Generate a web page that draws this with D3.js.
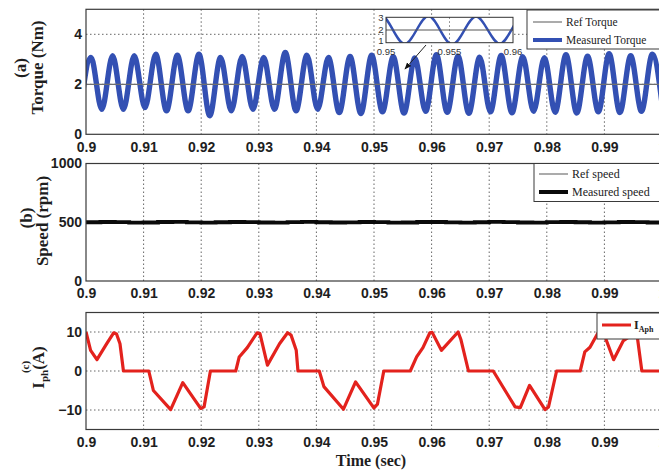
<!DOCTYPE html>
<html>
<head>
<meta charset="utf-8">
<script src="https://cdn.jsdelivr.net/npm/d3@7"></script>
<style>
  body { margin: 0; background: #fff; }
  svg { display: block; }
</style>
</head>
<body>
<svg id="chart" width="659" height="472"></svg>
<script>
// ---- data ----
const timeTicks = [0.9, 0.91, 0.92, 0.93, 0.94, 0.95, 0.96, 0.97, 0.98, 0.99, 1.0];
const timeTickLabels = ["0.9", "0.91", "0.92", "0.93", "0.94", "0.95", "0.96", "0.97", "0.98", "0.99", "1"];

// torque extrema (alternating trough / peak), Nm
const torqueTimes = [
  0.89900, 0.90087, 0.90274, 0.90462, 0.90649, 0.90837, 0.91024, 0.91211, 0.91398, 0.91586,
  0.91773, 0.91961, 0.92148, 0.92336, 0.92523, 0.92711, 0.92898, 0.93085, 0.93272, 0.93460,
  0.93647, 0.93835, 0.94022, 0.94210, 0.94397, 0.94585, 0.94772, 0.94960, 0.95147, 0.95334,
  0.95521, 0.95709, 0.95896, 0.96084, 0.96271, 0.96459, 0.96646, 0.96834, 0.97021, 0.97208,
  0.97395, 0.97583, 0.97770, 0.97958, 0.98145, 0.98333, 0.98520, 0.98708, 0.98895, 0.99082,
  0.99269, 0.99457, 0.99644, 0.99832, 1.00019
];
const torqueValues = [
  0.95,
  3.07, 1.00, 3.14, 1.00, 3.14, 1.07, 3.20, 0.94, 3.16, 0.94,
  3.20, 0.74, 3.07, 0.94, 3.11, 1.00, 3.07, 1.00, 3.27, 0.94,
  3.16, 1.00, 3.07, 0.87, 3.11, 0.83, 3.16, 0.90, 3.10, 0.85,
  3.05, 0.92, 3.18, 0.88, 3.12, 0.84, 3.08, 0.90, 3.15, 0.86,
  3.10, 0.92, 3.06, 0.88, 3.18, 0.85, 3.12, 0.90, 3.22, 0.87,
  3.14, 0.92, 3.20, 0.88
];
const refTorque = 2;
const torqueTicks = [0, 2, 4];
const insetTicks = [1, 2, 3];
const insetTimeTicks = [0.95, 0.955, 0.96];
const insetTimeLabels = ["0.95", "0.955", "0.96"];

// speed, rpm (sampled every 2.5 ms from 0.9 s)
const speedStart = 0.9;
const speedStep = 0.0025;
const speedValues = [
  500, 502, 501, 497, 498, 502, 503, 499, 497, 500, 502, 501, 498, 497, 501, 503, 500, 498, 499, 502, 501,
  497, 498, 502, 502, 499, 497, 500, 503, 501, 498, 497, 501, 502, 500, 497, 499, 502, 501, 498, 500
];
const refSpeed = 500;
const speedTicks = [0, 500, 1000];

// phase A current, A
const currentTimes = [
  0.9000, 0.9008, 0.9019, 0.9036, 0.9048, 0.9053, 0.9059, 0.9065, 0.9109, 0.9117,
  0.9147, 0.9168, 0.9199, 0.9205, 0.9216, 0.9260, 0.9266, 0.9280, 0.9297, 0.9302,
  0.9315, 0.9336, 0.9350, 0.9356, 0.9365, 0.9368, 0.9405, 0.9413, 0.9447, 0.9468,
  0.9500, 0.9506, 0.9517, 0.9563, 0.9574, 0.9585, 0.9597, 0.9601, 0.9617, 0.9646,
  0.9651, 0.9664, 0.9707, 0.9745, 0.9754, 0.9770, 0.9797, 0.9803, 0.9817, 0.9858,
  0.9866, 0.9875, 0.9889, 0.9898, 0.9916, 0.9933, 0.9956, 0.9965, 1.0000
];
const currentValues = [
  10, 5.3, 2.9, 7, 9.8, 9.5, 7, 0, 0, -5,
  -9.9, -3, -9.6, -9.2, 0, 0, 3.6, 6, 9.8, 9.6,
  1.5, 7, 9.8, 9.2, 5.3, 0, 0, -4, -9.8, -2.8,
  -9.5, -8.5, 0, 0, 3.6, 6, 9.8, 9.9, 5.3, 10,
  8, 0, 0, -9.2, -9.4, -3.7, -9.9, -9.2, 0, 0,
  4.9, 6.1, 9.8, 10, 2.9, 7.8, 10, 0, 0
];
const currentTicks = [-10, 0, 10];

// ---- styles ----
const BLUE = "#3350b3";
const RED = "#e3221d";
const GRID = "#555";
const FRAME = "#3a3a3a";
const TICK_FONT = "'Liberation Sans', Arial, sans-serif";
const SERIF = "'Liberation Serif', 'Times New Roman', serif";

const svg = d3.select("#chart");
const x = d3.scaleLinear().domain([0.9, 1.0]).range([86, 662]);

const panels = [
  { id: "a", y: d3.scaleLinear().domain([0, 5]).range([134.3, 9.3]), ticks: torqueTicks, grid: [2, 4], pad: 7.5 },
  { id: "b", y: d3.scaleLinear().domain([0, 1000]).range([281, 163.5]), ticks: speedTicks, grid: [500], pad: 7.5 },
  { id: "c", y: d3.scaleLinear().domain([-15, 15]).range([429.5, 312.5]), ticks: currentTicks, grid: [-10, 0, 10], pad: 8 }
];

const defs = svg.append("defs");
defs.append("marker")
  .attr("id", "arrowHead").attr("viewBox", "0 0 10 10")
  .attr("refX", 9).attr("refY", 5)
  .attr("markerWidth", 7).attr("markerHeight", 7)
  .attr("orient", "auto-start-reverse")
  .append("path").attr("d", "M0,1 L10,5 L0,9 z").attr("fill", "#111");

panels.forEach(p => {
  const [y0, y1] = p.y.range();
  const top = y1, bottom = y0, left = x.range()[0], right = x.range()[1];
  defs.append("clipPath").attr("id", "clip-" + p.id)
    .append("rect").attr("x", left).attr("y", top).attr("width", right - left).attr("height", bottom - top);

  const g = svg.append("g").attr("class", "panel-" + p.id);
  p.g = g;

  // dotted grid
  const grid = g.append("g").attr("stroke", GRID).attr("stroke-width", 0.9).attr("stroke-dasharray", "1.5,2.5");
  grid.selectAll("line.v").data(timeTicks.slice(1)).join("line")
    .attr("x1", d => x(d)).attr("x2", d => x(d)).attr("y1", top).attr("y2", bottom);
  grid.selectAll("line.h").data(p.grid).join("line")
    .attr("x1", left).attr("x2", right).attr("y1", d => p.y(d)).attr("y2", d => p.y(d));

  p.plot = g.append("g").attr("clip-path", `url(#clip-${p.id})`);

  // frame
  g.append("rect").attr("x", left).attr("y", top).attr("width", right - left).attr("height", bottom - top)
    .attr("fill", "none").attr("stroke", FRAME).attr("stroke-width", 1.2);

  // axes
  const xAxis = d3.axisBottom(x).tickValues(timeTicks)
    .tickFormat((d, i) => timeTickLabels[i]).tickSize(0).tickPadding(p.pad);
  const ga = g.append("g").attr("transform", `translate(0,${bottom})`).call(xAxis);
  const yAxis = d3.axisLeft(p.y).tickValues(p.ticks).tickFormat(d3.format("d")).tickSize(0).tickPadding(4);
  const gy = g.append("g").attr("transform", `translate(${left},0)`).call(yAxis);
  [ga, gy].forEach(a => {
    a.select(".domain").remove();
    a.selectAll("text").attr("font-family", TICK_FONT).attr("font-weight", "bold")
      .attr("font-size", 14).attr("fill", "#1e1e1e");
  });
});

// ---- (a) torque ----
const pa = panels[0];
const torquePts = torqueTimes.map((t, i) => [t, torqueValues[i]]);
const torqueLine = d3.line().x(d => x(d[0])).y(d => pa.y(d[1])).curve(d3.curveMonotoneX);
pa.plot.append("path").datum(torquePts).attr("d", torqueLine)
  .attr("fill", "none").attr("stroke", BLUE).attr("stroke-width", 5.4).attr("stroke-linejoin", "round");
pa.plot.append("line").attr("x1", x(0.9)).attr("x2", x(1.0))
  .attr("y1", pa.y(refTorque)).attr("y2", pa.y(refTorque))
  .attr("stroke", "#6f6f6f").attr("stroke-width", 1.2);

// legend (a)
const la = pa.g.append("g");
la.append("rect").attr("x", 527).attr("y", 10).attr("width", 140).attr("height", 39)
  .attr("fill", "#fff").attr("stroke", FRAME).attr("stroke-width", 1);
la.append("line").attr("x1", 533).attr("x2", 562).attr("y1", 22).attr("y2", 22)
  .attr("stroke", "#666").attr("stroke-width", 1.1);
la.append("line").attr("x1", 533).attr("x2", 562).attr("y1", 40).attr("y2", 40)
  .attr("stroke", BLUE).attr("stroke-width", 4);
la.selectAll("text").data(["Ref Torque", "Measured Torque"]).join("text")
  .attr("x", 566).attr("y", (d, i) => 26 + i * 18)
  .attr("font-family", SERIF).attr("font-size", 11.5).attr("fill", "#222").text(d => d);

// zoomed inset
const xi = d3.scaleLinear().domain([0.95, 0.96]).range([386, 513]);
const yi = d3.scaleLinear().domain([1, 3]).range([42.7, 17.3]);
const ins = pa.g.append("g");
defs.append("clipPath").attr("id", "clip-inset")
  .append("rect").attr("x", 386).attr("y", 17.3).attr("width", 127).attr("height", 25.4);
ins.append("rect").attr("x", 386).attr("y", 17.3).attr("width", 127).attr("height", 25.4).attr("fill", "#fff");
ins.append("line").attr("x1", xi(0.955)).attr("x2", xi(0.955)).attr("y1", 17.3).attr("y2", 42.7)
  .attr("stroke", GRID).attr("stroke-width", 0.8).attr("stroke-dasharray", "1.5,2.5");
const insClip = ins.append("g").attr("clip-path", "url(#clip-inset)");
insClip.append("path").datum(torquePts)
  .attr("d", d3.line().x(d => xi(d[0])).y(d => yi(d[1])).curve(d3.curveMonotoneX))
  .attr("fill", "none").attr("stroke", BLUE).attr("stroke-width", 2.4);
insClip.append("line").attr("x1", 386).attr("x2", 513).attr("y1", yi(refTorque)).attr("y2", yi(refTorque))
  .attr("stroke", "#555").attr("stroke-width", 1);
ins.append("rect").attr("x", 386).attr("y", 17.3).attr("width", 127).attr("height", 25.4)
  .attr("fill", "none").attr("stroke", "#333").attr("stroke-width", 1);
ins.selectAll("text.iy").data(insetTicks).join("text")
  .attr("x", 383.5).attr("y", d => yi(d) + 3.2 - (d === 1 ? 1.5 : 0)).attr("text-anchor", "end")
  .attr("font-family", TICK_FONT).attr("font-size", 9.5).attr("fill", "#333").text(d => d);
ins.selectAll("text.ix").data(insetTimeTicks).join("text")
  .attr("x", d => xi(d)).attr("y", 55).attr("text-anchor", "middle")
  .attr("font-family", TICK_FONT).attr("font-size", 9.5).attr("fill", "#333")
  .text((d, i) => insetTimeLabels[i]);
ins.append("line").attr("x1", 426).attr("y1", 45).attr("x2", 405).attr("y2", 69)
  .attr("stroke", "#222").attr("stroke-width", 1).attr("marker-end", "url(#arrowHead)");

// ---- (b) speed ----
const pb = panels[1];
const speedPts = speedValues.map((v, i) => [speedStart + i * speedStep, v]);
pb.plot.append("line").attr("x1", x(0.9)).attr("x2", x(1.0))
  .attr("y1", pb.y(refSpeed)).attr("y2", pb.y(refSpeed))
  .attr("stroke", "#666").attr("stroke-width", 1);
pb.plot.append("path").datum(speedPts)
  .attr("d", d3.line().x(d => x(d[0])).y(d => pb.y(d[1])).curve(d3.curveStepAfter))
  .attr("fill", "none").attr("stroke", "#0a0a0a").attr("stroke-width", 3.8);

const lb = pb.g.append("g");
lb.append("rect").attr("x", 534).attr("y", 163.5).attr("width", 140).attr("height", 38)
  .attr("fill", "#fff").attr("stroke", FRAME).attr("stroke-width", 1);
lb.append("line").attr("x1", 539).attr("x2", 568).attr("y1", 174).attr("y2", 174)
  .attr("stroke", "#666").attr("stroke-width", 1.1);
lb.append("line").attr("x1", 539).attr("x2", 568).attr("y1", 192).attr("y2", 192)
  .attr("stroke", "#0a0a0a").attr("stroke-width", 4);
lb.selectAll("text").data(["Ref speed", "Measured speed"]).join("text")
  .attr("x", 572).attr("y", (d, i) => 178 + i * 18)
  .attr("font-family", SERIF).attr("font-size", 12).attr("fill", "#222").text(d => d);

// ---- (c) phase current ----
const pc = panels[2];
pc.plot.append("path").datum(currentTimes.map((t, i) => [t, currentValues[i]]))
  .attr("d", d3.line().x(d => x(d[0])).y(d => pc.y(d[1])))
  .attr("fill", "none").attr("stroke", RED).attr("stroke-width", 3.2).attr("stroke-linejoin", "round");

const lc = pc.g.append("g");
lc.append("rect").attr("x", 597).attr("y", 313).attr("width", 80).attr("height", 26)
  .attr("fill", "#fff").attr("stroke", FRAME).attr("stroke-width", 1);
lc.append("line").attr("x1", 602).attr("x2", 631).attr("y1", 325).attr("y2", 325)
  .attr("stroke", RED).attr("stroke-width", 3);
const lct = lc.append("text").attr("x", 634).attr("y", 329)
  .attr("font-family", SERIF).attr("font-weight", "bold").attr("font-size", 12).attr("fill", "#222");
lct.append("tspan").text("I");
lct.append("tspan").attr("dy", 3).attr("font-size", 8).text("Aph");

// ---- axis titles ----
function vtext(xp, yp, size) {
  return svg.append("text").attr("transform", `translate(${xp},${yp}) rotate(-90)`)
    .attr("text-anchor", "middle").attr("font-family", SERIF).attr("font-weight", "bold")
    .attr("font-size", size).attr("fill", "#1e1e1e");
}
vtext(26, 68, 17).text("(a)");
vtext(43, 67.5, 17).text("Torque (Nm)");
vtext(32, 218, 17).text("(b)");
vtext(48, 221, 17).text("Speed (rpm)");
vtext(29, 367, 11).text("(c)");
const ic = vtext(44, 367.5, 17);
ic.append("tspan").text("I");
ic.append("tspan").attr("dy", 4).attr("font-size", 11).text("ph");
ic.append("tspan").attr("dy", -4).text("(A)");

svg.append("text").attr("x", 371).attr("y", 466).attr("text-anchor", "middle")
  .attr("font-family", SERIF).attr("font-weight", "bold").attr("font-size", 16).attr("fill", "#1e1e1e")
  .text("Time (sec)");
</script>
</body>
</html>
